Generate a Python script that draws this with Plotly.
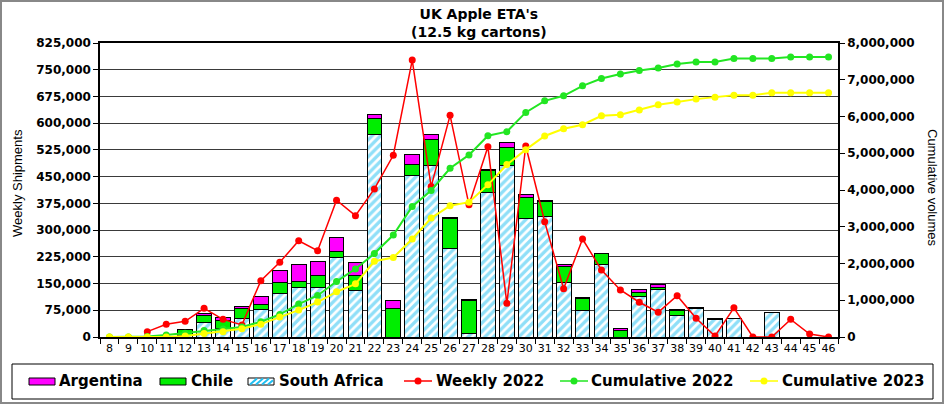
import plotly.graph_objects as go

weeks = [str(w) for w in range(8, 47)]

south_africa = [0, 0, 0, 0, 5000, 40000, 24000, 52000, 77000, 122000, 138000, 139000,
                223000, 130000, 568000, 0, 452000, 481000, 249000, 10000, 405000, 481000,
                332000, 337000, 153000, 75000, 204000, 0, 113000, 134000, 61000, 80000,
                50000, 52000, 0, 69000, 0, 0, 0]
chile = [0, 0, 0, 0, 15000, 20000, 23000, 27000, 14000, 30000, 19000, 33000,
         18000, 42000, 44000, 79500, 32000, 73000, 84000, 91500, 62000, 51500,
         59000, 42000, 46000, 34000, 31000, 19500, 12000, 5500, 13000, 1500,
         2000, 0, 0, 0, 0, 0, 0]
argentina = [0, 0, 0, 0, 1500, 6500, 7500, 7500, 21500, 35500, 47000, 41000,
             37500, 37500, 12000, 23500, 29000, 14000, 2000, 3000, 3500, 13000,
             7500, 3500, 4000, 1500, 0, 4500, 8500, 6500, 3500, 1000,
             500, 0, 0, 0, 0, 0, 0]
weekly_2022 = [None, None, 15000, 35500, 44000, 80500, 49500, 34000, 158000, 209500,
               270000, 242000, 384000, 340500, 415500, 510000, 777000, 422000, 622000,
               371000, 534000, 94500, 536000, 323500, 135500, 275000, 188000, 132000,
               97500, 69500, 116000, 52500, 2500, 82000, 0, 0, 49500, 8500, 0]
cumulative_2022 = [0, 0, 15000, 55000, 105000, 175000, 220000, 270000, 415000, 615000,
                   895000, 1131000, 1510000, 1852000, 2270000, 2774000, 3553000, 3987000,
                   4592000, 4954000, 5478000, 5587000, 6111000, 6427000, 6563000, 6834000,
                   7033000, 7159000, 7250000, 7322000, 7431000, 7485000, 7485000, 7575000,
                   7575000, 7575000, 7620000, 7620000, 7620000]
cumulative_2023 = [0, 0, 0, 0, 25000, 95000, 145000, 226000, 350000, 545000, 732000,
                   949000, 1229000, 1446000, 2061000, 2161000, 2666000, 3235000, 3571000,
                   3670000, 4141000, 4692000, 5098000, 5469000, 5668000, 5776000, 6020000,
                   6047000, 6174000, 6319000, 6392000, 6473000, 6527000, 6581000, 6581000,
                   6644000, 6644000, 6644000, 6644000]

left_ticks = list(range(0, 825001, 75000))
right_ticks = list(range(0, 8000001, 1000000))

legend_names = ["Argentina", "Chile", "South Africa", "Weekly 2022", "Cumulative 2022", "Cumulative 2023"]

C_ARG, C_CHI, C_SA = "#FF00FF", "#00EE00", "#1FBFF2"
C_W22, C_C22, C_C23 = "#FF0000", "#22E622", "#FFFF00"

W, H = 944, 404
L, R, T, B = 100, 838, 43, 337

def px(x):
    return (x - L) / (R - L)

def py(y):
    return (B - y) / (B - T)

BOLD = dict(family="DejaVu Sans", size=12, color="black", weight="bold")

fig = go.Figure()
fig.add_trace(go.Bar(x=weeks, y=south_africa, name=legend_names[2],
                     marker=dict(color="white", line=dict(color="black", width=1),
                                 pattern=dict(shape="/", fgcolor=C_SA, bgcolor="white",
                                              size=6, solidity=0.55))))
fig.add_trace(go.Bar(x=weeks, y=chile, name=legend_names[1],
                     marker=dict(color=C_CHI, line=dict(color="black", width=1))))
fig.add_trace(go.Bar(x=weeks, y=argentina, name=legend_names[0],
                     marker=dict(color=C_ARG, line=dict(color="black", width=1))))
fig.add_trace(go.Scatter(x=weeks, y=weekly_2022, name=legend_names[3],
                         mode="lines+markers", line=dict(color=C_W22, width=1.5),
                         marker=dict(color=C_W22, size=7)))
fig.add_trace(go.Scatter(x=weeks, y=cumulative_2022, name=legend_names[4],
                         yaxis="y2", mode="lines+markers", line=dict(color=C_C22, width=2),
                         marker=dict(color=C_C22, size=7)))
fig.add_trace(go.Scatter(x=weeks, y=cumulative_2023, name=legend_names[5],
                         yaxis="y2", mode="lines+markers", line=dict(color=C_C23, width=2),
                         marker=dict(color=C_C23, size=7)))

shapes = [
    dict(type="rect", xref="paper", yref="paper", x0=px(1), x1=px(943), y0=py(403), y1=py(1),
         line=dict(color="#888888", width=2), fillcolor="rgba(0,0,0,0)", layer="below"),
    dict(type="rect", xref="paper", yref="paper", x0=px(12), x1=px(933), y0=py(399), y1=py(364),
         line=dict(color="black", width=1), fillcolor="rgba(0,0,0,0)", layer="above"),
]
annotations = [
    dict(text="UK Apple ETA's<br>(12.5 kg cartons)", xref="paper", yref="paper",
         x=px(479), y=py(23), xanchor="center", yanchor="middle", showarrow=False,
         font=dict(family="DejaVu Sans", size=14, color="black", weight="bold")),
    dict(text="Weekly Shipments", xref="paper", yref="paper", x=px(17), y=py(183),
         xanchor="center", yanchor="middle", showarrow=False, textangle=-90,
         font=dict(family="Liberation Sans", size=13, color="black")),
    dict(text="Cumulative volumes", xref="paper", yref="paper", x=px(933), y=py(188),
         xanchor="center", yanchor="middle", showarrow=False, textangle=90,
         font=dict(family="Liberation Sans", size=13, color="black")),
]

# manual legend (one row, like the reference)
LY = 381
sw_x = [29, 160, 248, 404, 560, 750]
tx_x = [57, 189, 277, 434, 589, 780]
box_fill = [C_ARG, C_CHI]
for i in range(2):
    shapes.append(dict(type="rect", xref="paper", yref="paper", x0=px(sw_x[i]), x1=px(sw_x[i] + 26),
                       y0=py(LY + 4), y1=py(LY - 3), fillcolor=box_fill[i],
                       line=dict(color="black", width=1), layer="above"))
shapes.append(dict(type="rect", xref="paper", yref="paper", x0=px(sw_x[2]), x1=px(sw_x[2] + 26),
                   y0=py(LY + 4), y1=py(LY - 3), fillcolor="white",
                   line=dict(color="black", width=1), layer="above"))
for k in [2, 8, 14]:
    shapes.append(dict(type="line", xref="paper", yref="paper",
                       x0=px(sw_x[2] + k), x1=px(sw_x[2] + k + 7), y0=py(LY + 3.5), y1=py(LY - 2.5),
                       line=dict(color=C_SA, width=2), layer="above"))
shapes.append(dict(type="line", xref="paper", yref="paper",
                   x0=px(sw_x[2] + 20), x1=px(sw_x[2] + 25), y0=py(LY + 3.5), y1=py(LY - 0.8),
                   line=dict(color=C_SA, width=2), layer="above"))
line_cols = [C_W22, C_C22, C_C23]
for j in range(3):
    x0 = sw_x[3 + j]
    shapes.append(dict(type="line", xref="paper", yref="paper", x0=px(x0), x1=px(x0 + 28),
                       y0=py(LY), y1=py(LY), line=dict(color=line_cols[j], width=1.5), layer="above"))
    shapes.append(dict(type="circle", xref="paper", yref="paper",
                       x0=px(x0 + 14 - 3.5), x1=px(x0 + 14 + 3.5), y0=py(LY + 3.5), y1=py(LY - 3.5),
                       fillcolor=line_cols[j], line=dict(color=line_cols[j], width=0), layer="above"))
for i, name in enumerate(legend_names):
    annotations.append(dict(text=name, xref="paper", yref="paper", x=px(tx_x[i]), y=py(LY),
                            xanchor="left", yanchor="middle", showarrow=False,
                            font=dict(family="DejaVu Sans", size=15, color="black", weight="bold")))

fig.update_layout(
    width=W, height=H,
    margin=dict(l=L, r=W - R, t=T, b=H - B, pad=0, autoexpand=False),
    paper_bgcolor="white", plot_bgcolor="white",
    barmode="stack", bargap=0.22,
    showlegend=False,
    xaxis=dict(type="category", range=[-0.5, 38.5], tickson="boundaries", tickangle=0,
               ticks="outside", ticklen=5, tickcolor="black", automargin=False,
               showline=True, linecolor="black", linewidth=1.5, mirror=True,
               showgrid=False, tickfont=dict(family="DejaVu Sans", size=11, color="black")),
    yaxis=dict(range=[0, 825000], tickvals=left_ticks, tickformat=",", automargin=False,
               ticks="outside", ticklen=5, tickcolor="black",
               showline=True, linecolor="black", linewidth=1.5,
               showgrid=True, gridcolor="#3a3a3a", gridwidth=1, zeroline=False,
               tickfont=BOLD),
    yaxis2=dict(range=[0, 8000000], tickvals=right_ticks, tickformat=",", automargin=False,
                overlaying="y", side="right",
                ticks="outside", ticklen=5, tickcolor="black",
                showline=True, linecolor="black", linewidth=1.5,
                showgrid=False, zeroline=False, tickfont=BOLD),
    shapes=shapes,
    annotations=annotations,
)

fig.write_html("out.html", config={"displayModeBar": False},
               post_script="document.body.style.margin='0px';document.body.style.overflow='hidden';")
